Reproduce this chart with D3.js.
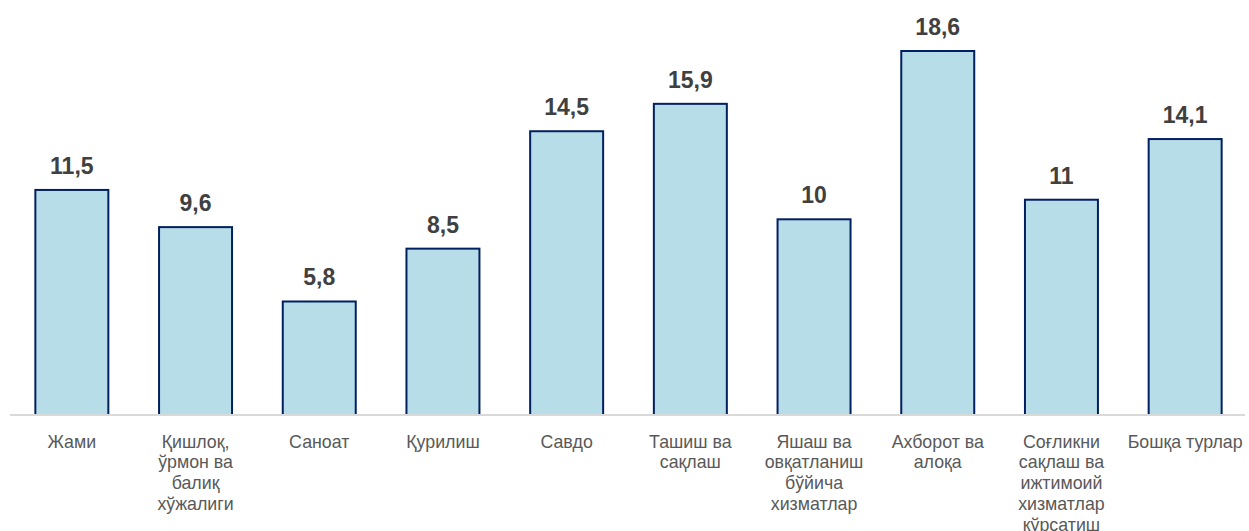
<!DOCTYPE html>
<html>
<head>
<meta charset="utf-8">
<script src="https://cdn.jsdelivr.net/npm/d3@7/dist/d3.min.js"></script>
<style>
  body { margin: 0; background: #fff; }
  text { font-family: Arial, "Liberation Sans", sans-serif; }
</style>
</head>
<body>
<script>
// categories (wrapped the same way as the original labels)
var categories = [
  ["Жами"],
  ["Қишлоқ,", "ўрмон ва", "балиқ", "хўжалиги"],
  ["Саноат"],
  ["Қурилиш"],
  ["Савдо"],
  ["Ташиш ва", "сақлаш"],
  ["Яшаш ва", "овқатланиш", "бўйича", "хизматлар"],
  ["Ахборот ва", "алоқа"],
  ["Соғликни", "сақлаш ва", "ижтимоий", "хизматлар", "кўрсатиш"],
  ["Бошқа турлар"]
];
var values = [11.5, 9.6, 5.8, 8.5, 14.5, 15.9, 10, 18.6, 11, 14.1];
var valueLabels = ["11,5", "9,6", "5,8", "8,5", "14,5", "15,9", "10", "18,6", "11", "14,1"];

var width = 1249, height = 531;
var baseY = 415;

var svg = d3.select("body").append("svg")
  .attr("width", width)
  .attr("height", height);

var idx = d3.range(values.length);

var x = d3.scaleBand()
  .domain(idx)
  .range([10, 1247])
  .paddingInner(0.41)
  .paddingOuter(0.205);

var y = d3.scaleLinear()
  .domain([0, 20])
  .range([baseY, baseY - 391.4]);

// bars
svg.selectAll("rect.bar")
  .data(idx)
  .enter().append("rect")
  .attr("class", "bar")
  .attr("x", function(i) { return x(i); })
  .attr("y", function(i) { return y(values[i]); })
  .attr("width", x.bandwidth())
  .attr("height", function(i) { return y(0) - y(values[i]); })
  .style("fill", "#b7dde8")
  .style("stroke", "#002060")
  .style("stroke-width", 2);

// baseline
svg.append("line")
  .attr("x1", 10)
  .attr("x2", 1245)
  .attr("y1", baseY)
  .attr("y2", baseY)
  .style("stroke", "#d9d9d9")
  .style("stroke-width", 2);

// value labels
svg.selectAll("text.val")
  .data(idx)
  .enter().append("text")
  .attr("class", "val")
  .attr("x", function(i) { return x(i) + x.bandwidth() / 2; })
  .attr("y", function(i) { return y(values[i]) - 16; })
  .attr("text-anchor", "middle")
  .style("font-size", "23px")
  .style("font-weight", "bold")
  .style("fill", "#404040")
  .text(function(i) { return valueLabels[i]; });

// category labels
var cat = svg.selectAll("text.cat")
  .data(idx)
  .enter().append("text")
  .attr("class", "cat")
  .attr("text-anchor", "middle")
  .style("font-size", "17.8px")
  .style("fill", "#595959");

cat.each(function(i) {
  var t = d3.select(this);
  var cx = x(i) + x.bandwidth() / 2;
  categories[i].forEach(function(line, k) {
    t.append("tspan")
      .attr("x", cx)
      .attr("y", 447.5 + k * 20.8)
      .text(line);
  });
});
</script>
</body>
</html>
